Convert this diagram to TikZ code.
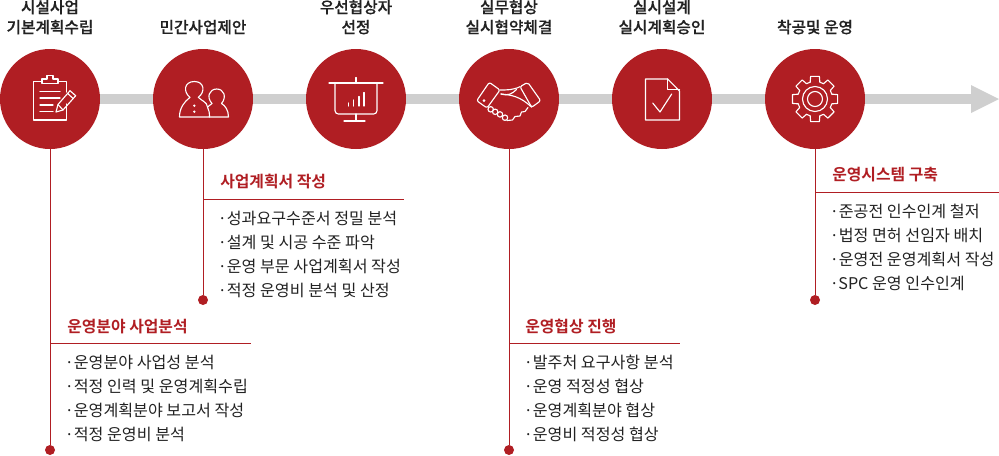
\documentclass[tikz,border=0pt]{standalone}
\usepackage{fontspec}
\setmainfont{Noto Sans CJK KR}
\newfontfamily\medfont[FakeBold=0.4]{Noto Sans CJK KR Medium}
\newfontfamily\boldfont{Noto Sans CJK KR Bold}
\definecolor{brand}{HTML}{B01E23}
\definecolor{barc}{HTML}{CFCFCF}
\definecolor{ink}{HTML}{222222}
\tikzset{
 stepdisc/.style={circle,fill=brand,draw=none,minimum size=100*0.75pt,inner sep=0pt},
 enddot/.style={circle,fill=brand,draw=none,minimum size=10*0.75pt,inner sep=0pt},
 ttl/.style={align=center,inner sep=0pt,font=\fontsize{11.8pt}{15pt}\selectfont\medfont,text=ink,anchor=base},
 head/.style={inner sep=0pt,anchor=base west,font=\fontsize{11.9pt}{15pt}\selectfont\boldfont,text=brand},
 item/.style={inner sep=0pt,anchor=base west,font=\fontsize{12.1pt}{15pt}\selectfont,text=ink},
 rl/.style={draw=brand,line width=0.75pt},
 ic/.style={draw=white,line width=0.85pt,line join=round,line cap=round},
}
\newcommand{\dt}{·}
\begin{document}
\begin{tikzpicture}[x=0.75pt,y=-0.75pt]
\useasboundingbox (0,0) rectangle (999,455);
% bar
\coordinate (tip) at (999,99);
\fill[barc] (50,94) rectangle (971,104);
\fill[barc] (971,85) -- (tip) -- (971,113) -- cycle;
% drop lines under discs
\node[enddot] (d1) at (50,450) {};
\node[enddot] (d2) at (203,300) {};
\node[enddot] (d3) at (509,450) {};
\node[enddot] (d4) at (815,300) {};
% discs
\foreach \n/\x in {c1/50,c2/203,c3/356,c4/509,c5/662,c6/815}{\node[stepdisc] (\n) at (\x,99) {};}
\draw[rl] (c1) -- (d1);
\draw[rl] (c2) -- (d2);
\draw[rl] (c4) -- (d3);
\draw[rl] (c6) -- (d4);
% titles
\node[ttl] (t1a) at (50,13) {시설사업};
\node[ttl] (t1b) at (50,33) {기본계획수립};
\node[ttl] (t2) at (203,33) {민간사업제안};
\node[ttl] (t3a) at (356,13) {우선협상자};
\node[ttl] (t3b) at (356,33) {선정};
\node[ttl] (t4a) at (509,13) {실무협상};
\node[ttl] (t4b) at (509,33) {실시협약체결};
\node[ttl] (t5a) at (662,13) {실시설계};
\node[ttl] (t5b) at (662,33) {실시계획승인};
\node[ttl] (t6) at (815,33) {착공및 운영};
% rules
\coordinate (r1a) at (50,343); \coordinate (r1b) at (251,343);
\coordinate (r2a) at (203,199); \coordinate (r2b) at (404,199);
\coordinate (r3a) at (509,343); \coordinate (r3b) at (680,343);
\coordinate (r4a) at (815,192); \coordinate (r4b) at (999,192);
\draw[rl] (r1a)--(r1b); \draw[rl] (r2a)--(r2b); \draw[rl] (r3a)--(r3b); \draw[rl] (r4a)--(r4b);
\node[head] (h1) at (67,332) {운영분야 사업분석};
\node[head] (h2) at (220,187) {사업계획서 작성};
\node[head] (h3) at (525,332) {운영협상 진행};
\node[head] (h4) at (832,180) {운영시스템 구축};
% items
\node[item] (i11) at (64.5,368) {\dt 운영분야 사업성 분석};
\node[item] (i12) at (64.5,392) {\dt 적정 인력 및 운영계획수립};
\node[item] (i13) at (64.5,416) {\dt 운영계획분야 보고서 작성};
\node[item] (i14) at (64.5,440) {\dt 적정 운영비 분석};
\node[item] (i21) at (217.5,224) {\dt 성과요구수준서 정밀 분석};
\node[item] (i22) at (217.5,248) {\dt 설계 및 시공 수준 파악};
\node[item] (i23) at (217.5,272) {\dt 운영 부문 사업계획서 작성};
\node[item] (i24) at (217.5,296) {\dt 적정 운영비 분석 및 산정};
\node[item] (i31) at (523.5,368) {\dt 발주처 요구사항 분석};
\node[item] (i32) at (523.5,392) {\dt 운영 적정성 협상};
\node[item] (i33) at (523.5,416) {\dt 운영계획분야 협상};
\node[item] (i34) at (523.5,440) {\dt 운영비 적정성 협상};
\node[item] (i41) at (829.5,217) {\dt 준공전 인수인계 철저};
\node[item] (i42) at (829.5,241) {\dt 법정 면허 선임자 배치};
\node[item] (i43) at (829.5,265) {\dt 운영전 운영계획서 작성};
\node[item] (i44) at (829.5,289) {\dt SPC 운영 인수인계};
% icon 1 clipboard
\draw[ic] (66.7,92) -- (66.7,81.5) -- (58,81.5) (42,81.5) -- (33.5,81.5) -- (33.5,120) -- (66.7,120) -- (66.7,104);
\draw[ic] (42,81.5) -- (42,79) -- (47,79) -- (47,75.5) -- (53,75.5) -- (53,79) -- (58,79) -- (58,83.5) -- (42,83.5) -- cycle;
\draw[ic] (40,91.7) -- (60,91.7) (40,98) -- (60,98) (40,105) -- (53,105) (40,111.7) -- (53,111.7);
\draw[ic] (56,112) -- (58,104.5) -- (70,90.7) -- (75.7,95.7) -- (63,110) -- cycle;
\draw[ic] (58,104.5) -- (63,110);
\draw[ic] (67.7,93.5) -- (73.2,98.5);
% icon 2 people
\draw[ic] (190,97.3) .. controls (183,92) and (184,81.5) .. (194.3,81.5) .. controls (204.5,81.5) and (205.5,92) .. (198.3,97.3) .. controls (202,101) and (207,102) .. (207.5,107) .. controls (209,110) and (209.5,113) .. (209.5,117) -- (179.5,117) .. controls (179.5,108) and (184,102) .. (190,97.3) -- cycle;
\draw[ic] (212,103.5) .. controls (206,97) and (209.5,89) .. (216.7,89) .. controls (224,89) and (227,97) .. (221.5,103.5) .. controls (225,105.5) and (228.5,110) .. (228.5,117) -- (209.5,117);
\draw[ic] (212,103.5) -- (207.5,107);
\fill[white] (194.3,105.7) circle (1.3) (194.3,111.7) circle (1.3);
% icon 3 board
\draw[ic] (329,83) -- (383,83) (356,77.5) -- (356,83);
\draw[ic,rounded corners=2.5] (335,83) -- (335,114) -- (377,114) -- (377,83);
\draw[ic] (356,114) -- (356,121) (344,121) -- (365,121);
\draw[ic] (348.5,103) -- (348.5,106) (353.8,100) -- (353.8,106) (359,96.5) -- (359,106) (364,92.5) -- (364,106);
% icon 4 handshake
\draw[ic,rounded corners=1.5] (476.7,100.7) -- (489.3,82.3) -- (500,90) -- (487,108) -- cycle;
\draw[ic,rounded corners=1.5] (520,86.7) -- (527.7,82.3) -- (540.7,100.7) -- (531.7,107.3) -- cycle;
\fill[white] (484,100.5) circle (1.5);
\draw[ic] (500,90) .. controls (507,90) and (513,90) .. (520,86.7);
\draw[ic] (501,94) .. controls (508,96) and (512,94) .. (516.5,89.5);
\draw[ic] (501,94) .. controls (511,95) and (520,96) .. (531.7,107.3);
\draw[ic] (528,107.5) -- (525,111.5) -- (521.5,112) -- (520,116) -- (515,116.5) -- (512.5,120) -- (507,120.5);
\foreach \p in {(490.7,109.3),(495.2,111.8),(500,114.4),(505,117.7)}{\draw[ic] \p circle (2.7);}
% icon 5 document
\draw[ic] (645.5,79) -- (667.7,79) -- (679.5,91) -- (679.5,120) -- (645.5,120) -- cycle;
\draw[ic] (667.7,79) -- (667.7,89.3) -- (679.5,89.3);
\draw[ic] (652.7,103) -- (660,112) -- (671.7,94);
% icon 6 gear
\begin{scope}[shift={(815,99)}]
\foreach \a in {0,45,...,315}{
  \draw[ic] ({\a-16}:17.5) -- ({\a-11}:23) -- ({\a+11}:23) -- ({\a+16}:17.5) -- ({\a+29}:17.5);
}
\draw[ic] (0,0) circle (12.5);
\draw[ic] (0,0) circle (7.5);
\end{scope}
\end{tikzpicture}
\end{document}
